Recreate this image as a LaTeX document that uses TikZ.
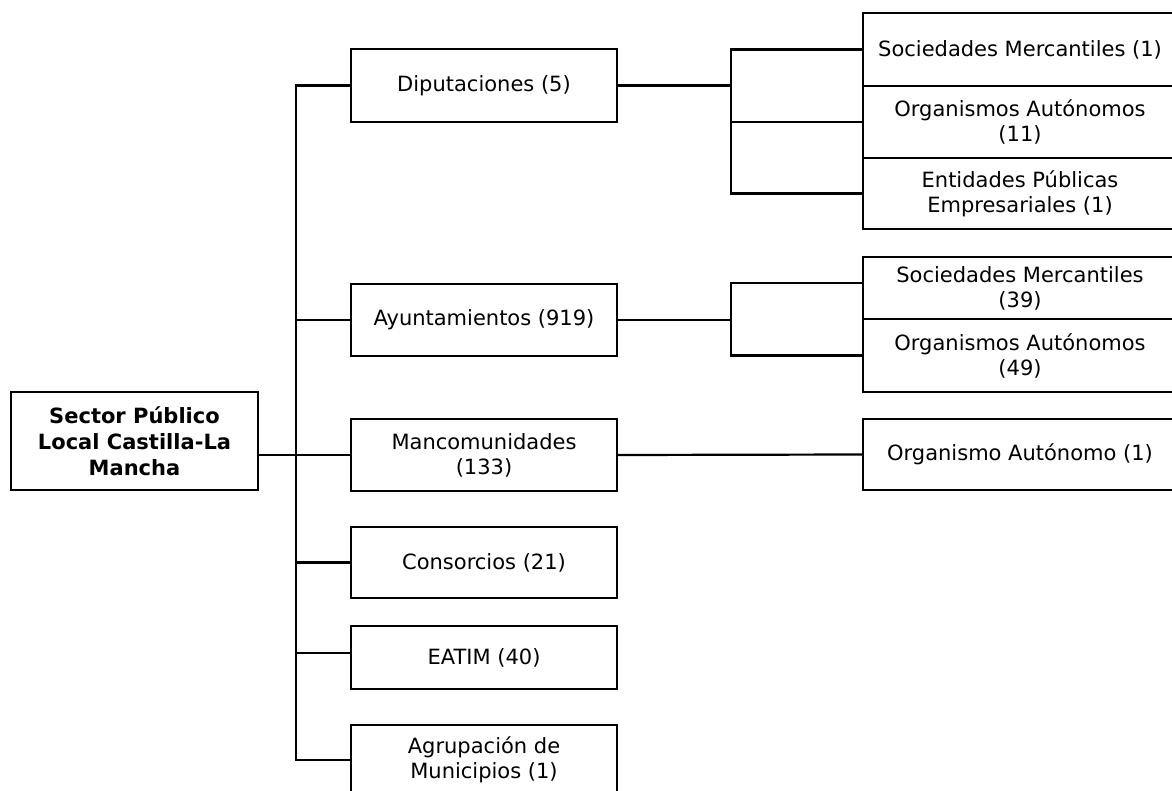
\documentclass[tikz,border=0pt]{standalone}
\usepackage{fontspec}
\setmainfont{DejaVu Sans}
\begin{document}
\begin{tikzpicture}[x=1pt,y=-1pt,
  every node/.style={font=\fontsize{21}{25}\selectfont},
  box/.style={draw, line width=2.2pt, inner sep=0pt, align=center, minimum width=266pt},
  rbox/.style={draw, line width=2.2pt, inner sep=0pt, align=center, minimum width=314pt},
  conn/.style={line width=2.2pt}]
\useasboundingbox (0,0) rectangle (1172,791);
% root
\node[draw, line width=2.2pt, inner sep=0pt, align=center, minimum width=247pt, minimum height=98pt,
      font=\fontsize{21}{26}\selectfont\bfseries] (root) at (134.5,441) {Sector Público\\Local Castilla-La\\Mancha};
% level 1
\node[box, minimum height=73pt] (dip) at (484,85.5) {Diputaciones (5)};
\node[box, minimum height=72pt] (ayu) at (484,320) {Ayuntamientos (919)};
\node[box, minimum height=72pt] (man) at (484,455) {Mancomunidades\\(133)};
\node[box, minimum height=71pt] (con) at (484,562.5) {Consorcios (21)};
\node[box, minimum height=63pt] (eat) at (484,657.5) {EATIM (40)};
\node[box, minimum height=70pt] (agr) at (484,760) {Agrupación de\\Municipios (1)};
% level 2
\node[rbox, minimum height=73pt] (s1) at (1020,49.5) {Sociedades Mercantiles (1)};
\node[rbox, minimum height=72pt] (o11) at (1020,122) {Organismos Autónomos\\(11)};
\node[rbox, minimum height=71pt] (e1) at (1020,193.5) {Entidades Públicas\\Empresariales (1)};
\node[rbox, minimum height=62pt] (s39) at (1020,288) {Sociedades Mercantiles\\(39)};
\node[rbox, minimum height=73pt] (o49) at (1020,355.5) {Organismos Autónomos\\(49)};
\node[rbox, minimum height=71pt] (oa1) at (1020,454.5) {Organismo Autónomo (1)};
% trunk coordinates
\coordinate (t) at (296,0);
\coordinate (b) at (731,0);
% connectors level 0-1
\draw[conn] (man.west) -- (root.east |- man.west);
\draw[conn] (dip.west) -- (dip.west -| t) -- (agr.west -| t) -- (agr.west);
\draw[conn] (ayu.west) -- (ayu.west -| t);
\draw[conn] (con.west) -- (con.west -| t);
\draw[conn] ([yshift=4.5pt]eat.west) -- ([yshift=4.5pt]eat.west -| t);
% connectors level 1-2
\draw[conn] (dip.east) -- (dip.east -| b);
\draw[conn] (s1.west) -- (s1.west -| b) -- (e1.west -| b) -- (e1.west);
\draw[conn] (o11.west) -- (o11.west -| b);
\draw[conn] (ayu.east) -- (ayu.east -| b);
\draw[conn] ([yshift=5pt]s39.west) -- ([yshift=5pt]s39.west -| b) -- (o49.west -| b) -- (o49.west);
\draw[conn] (man.east) -- (oa1.west);
\end{tikzpicture}
\end{document}
